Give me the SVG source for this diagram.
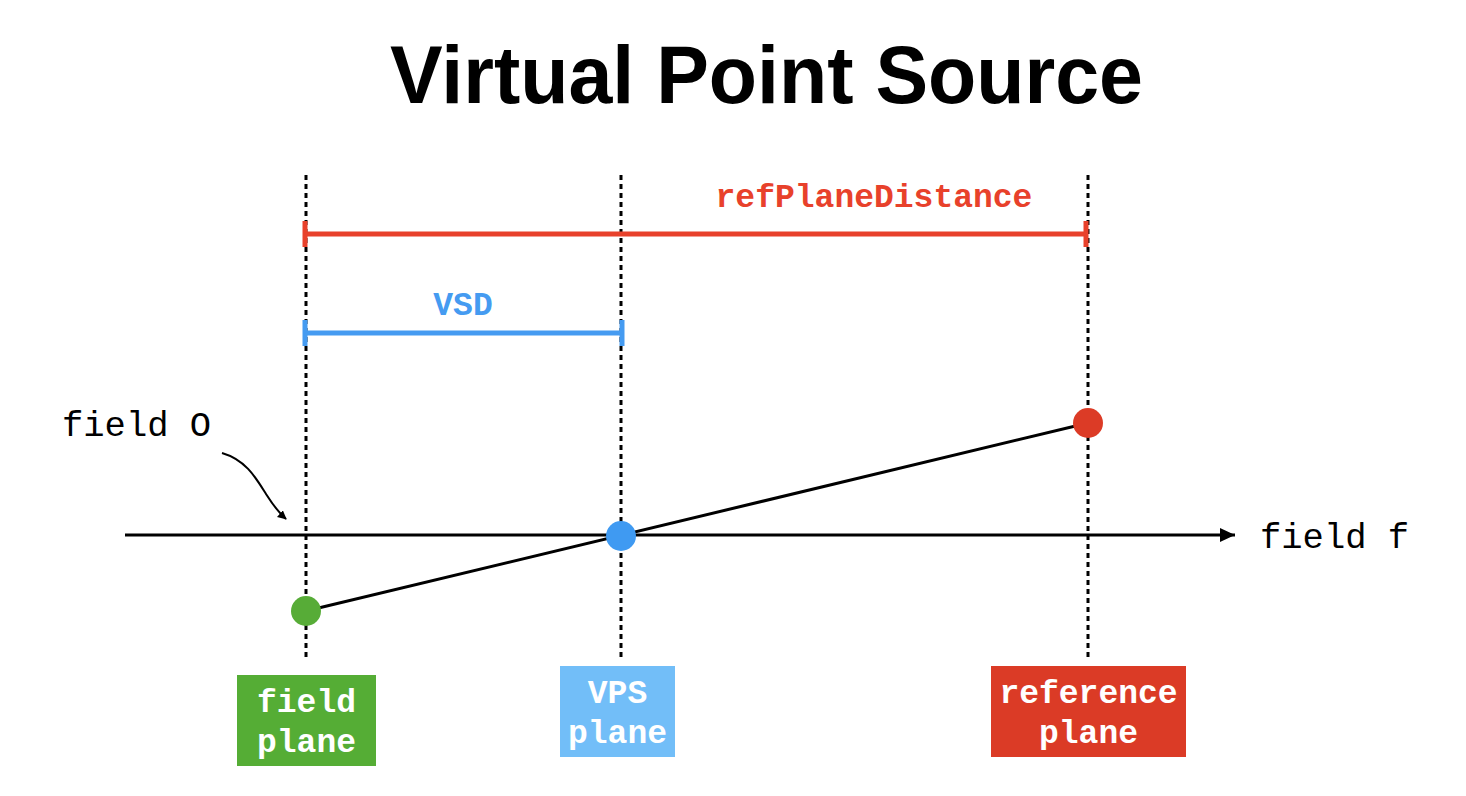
<svg xmlns="http://www.w3.org/2000/svg" width="1466" height="796" viewBox="0 0 1466 796">
<defs>
<style>
.title{font-family:"Liberation Sans",Arial,sans-serif;font-weight:bold;font-size:82px;fill:#000}
.mono{font-family:"Liberation Mono","Courier New",monospace;font-size:35.5px}
.lbl{font-family:"Liberation Mono","Courier New",monospace;font-weight:bold;font-size:33px;text-anchor:middle}
.dash{stroke:#000;stroke-width:3;stroke-dasharray:5 4;fill:none}
.white{fill:#fff}
</style>
<marker id="ah" viewBox="0 0 10 10" refX="9" refY="5" markerWidth="9" markerHeight="9" markerUnits="userSpaceOnUse" orient="auto">
<path d="M0,0 L10,5 L0,10 z" fill="#000"/>
</marker>
<marker id="ahBig" viewBox="0 0 15 14" refX="15" refY="7" markerWidth="15" markerHeight="14" markerUnits="userSpaceOnUse" orient="auto">
<path d="M0,0 L15,7 L0,14 z" fill="#000"/>
</marker>
</defs>
<rect width="1466" height="796" fill="#fff"/>
<text class="title" x="390" y="103" textLength="753" lengthAdjust="spacingAndGlyphs">Virtual Point Source</text>

<g id="connectors">
<line class="dash" x1="306" y1="175" x2="306" y2="660"/>
<line class="dash" x1="621" y1="175" x2="621" y2="660"/>
<line class="dash" x1="1088" y1="175" x2="1088" y2="658"/>
<line x1="125" y1="535" x2="1235" y2="535" stroke="#000" stroke-width="3" marker-end="url(#ahBig)"/>
<line x1="306" y1="611" x2="1088" y2="423" stroke="#000" stroke-width="3"/>
<path d="M222,453 C246,460 256,478 266,494 C273,505 278,512 286,519" fill="none" stroke="#000" stroke-width="2" marker-end="url(#ah)"/>
</g>

<g id="refPlaneDistance">
<line x1="305" y1="234" x2="1086" y2="234" stroke="#E8412B" stroke-width="5"/>
<line x1="305" y1="221" x2="305" y2="247" stroke="#E8412B" stroke-width="5"/>
<line x1="1086" y1="221" x2="1086" y2="247" stroke="#E8412B" stroke-width="5"/>
<text class="lbl" x="874" y="207" fill="#E8412B">refPlaneDistance</text>
</g>

<g id="vsd">
<line x1="305" y1="333" x2="622" y2="333" stroke="#459BF1" stroke-width="5"/>
<line x1="305" y1="320" x2="305" y2="346" stroke="#459BF1" stroke-width="5"/>
<line x1="622" y1="320" x2="622" y2="346" stroke="#459BF1" stroke-width="5"/>
<text class="lbl" x="463" y="315" fill="#459BF1">VSD</text>
</g>

<g id="field-O-label">
<text class="mono" x="62" y="436" fill="#000">field O</text>
</g>
<g id="field-f-label">
<text class="mono" x="1260" y="548" fill="#000">field f</text>
</g>

<g id="green-point"><circle cx="306" cy="611" r="15" fill="#57AC37"/></g>
<g id="blue-point"><circle cx="621" cy="536" r="15" fill="#3F9AF2"/></g>
<g id="red-point"><circle cx="1088" cy="423" r="15" fill="#DC3B26"/></g>

<g id="field-plane">
<rect x="237" y="675" width="139" height="91" fill="#55AD35"/>
<text class="lbl white" x="306.5" y="712">field</text>
<text class="lbl white" x="306.5" y="752">plane</text>
</g>
<g id="vps-plane">
<rect x="560" y="666" width="115" height="91" fill="#72BEF8"/>
<text class="lbl white" x="617.5" y="703">VPS</text>
<text class="lbl white" x="617.5" y="743">plane</text>
</g>
<g id="reference-plane">
<rect x="991" y="666" width="195" height="91" fill="#DB3B26"/>
<text class="lbl white" x="1088.5" y="703">reference</text>
<text class="lbl white" x="1088.5" y="743">plane</text>
</g>
</svg>
